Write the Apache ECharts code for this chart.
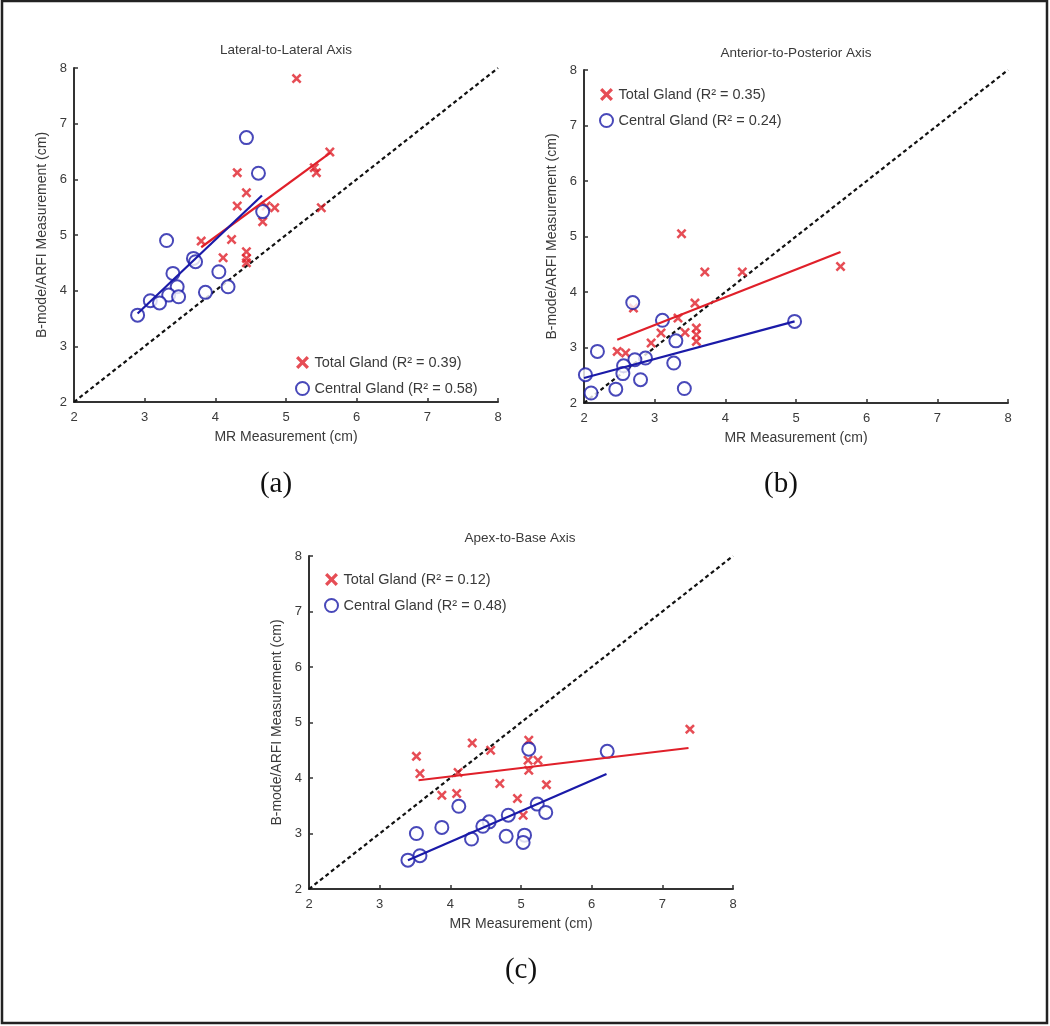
<!DOCTYPE html>
<html>
<head>
<meta charset="utf-8">
<script src="https://cdn.jsdelivr.net/npm/echarts@6/dist/echarts.min.js"></script>
<style>
html,body{margin:0;padding:0;background:#fff;}
#chart{width:1050px;height:1026px;}
</style>
</head>
<body>
<div id="chart"></div>
<script>
// ---------- DATA ----------
const axisTicks = [2, 3, 4, 5, 6, 7, 8];
const panelTitles = ['Lateral-to-Lateral Axis', 'Anterior-to-Posterior Axis', 'Apex-to-Base Axis'];
const panelLetters = ['(a)', '(b)', '(c)'];
const totalNames = ['Total Gland (R² = 0.39)', 'Total Gland (R² = 0.35)', 'Total Gland (R² = 0.12)'];
const centralNames = ['Central Gland (R² = 0.58)', 'Central Gland (R² = 0.24)', 'Central Gland (R² = 0.48)'];
const identityLine = [[2, 2], [8, 8]];

// Panel (a) Lateral-to-Lateral
const aTotal = [[5.15,7.81],[5.62,6.49],[5.40,6.21],[5.43,6.12],[4.31,6.12],[4.44,5.76],[4.31,5.52],[4.72,5.52],
  [4.84,5.49],[4.67,5.24],[5.50,5.49],[3.80,4.89],[4.23,4.92],[4.11,4.59],[4.44,4.70],[4.44,4.58],[4.44,4.50]];
const aCentral = [[4.44,6.75],[4.61,6.11],[4.67,5.42],[3.31,4.90],[3.69,4.58],[3.72,4.52],[3.40,4.31],[4.05,4.34],
  [3.46,4.07],[4.18,4.07],[3.86,3.97],[3.34,3.92],[3.48,3.89],[3.08,3.82],[3.21,3.78],[2.90,3.56]];
const aTotalFit = [[3.80,4.78],[5.63,6.48]];
const aCentralFit = [[2.90,3.59],[4.66,5.71]];

// Panel (b) Anterior-to-Posterior
const bTotal = [[3.38,5.05],[3.71,4.36],[4.24,4.36],[5.63,4.46],[3.57,3.80],[2.70,3.71],[3.33,3.53],[3.59,3.35],
  [3.43,3.27],[3.59,3.23],[3.09,3.26],[3.59,3.11],[2.95,3.08],[2.47,2.93],[2.59,2.90]];
const bCentral = [[2.69,3.81],[4.98,3.47],[3.11,3.49],[3.30,3.12],[2.19,2.93],[2.87,2.81],[2.72,2.78],[2.56,2.67],
  [3.27,2.72],[2.02,2.51],[2.55,2.53],[2.80,2.42],[2.45,2.25],[3.42,2.26],[2.10,2.18]];
const bTotalFit = [[2.47,3.14],[5.63,4.72]];
const bCentralFit = [[2.00,2.45],[4.98,3.47]];

// Panel (c) Apex-to-Base
const cTotal = [[7.39,4.88],[4.31,4.63],[4.57,4.50],[3.52,4.39],[5.11,4.68],[5.10,4.32],[5.24,4.32],[5.11,4.14],
  [3.57,4.08],[4.11,4.10],[4.70,3.90],[5.36,3.88],[3.88,3.69],[4.09,3.72],[4.95,3.63],[5.03,3.33]];
const cCentral = [[6.22,4.48],[5.11,4.52],[4.12,3.49],[5.23,3.53],[5.35,3.38],[4.82,3.33],[4.55,3.21],[4.46,3.13],
  [3.88,3.11],[3.52,3.00],[4.30,2.90],[4.79,2.95],[5.05,2.97],[5.03,2.84],[3.57,2.60],[3.40,2.52]];
const cTotalFit = [[3.55,3.96],[7.37,4.54]];
const cCentralFit = [[3.40,2.52],[6.21,4.07]];

// ---------- STYLE / LAYOUT ----------
const RED = '#e0202a';
const BLUE = '#1a1aa8';
const AXIS = '#333';
const TXT = '#3a3a3a';
const FONT = 'Liberation Sans, Arial, sans-serif';
const CROSS = 'path://M0,1.8 L1.8,0 L5,3.2 L8.2,0 L10,1.8 L6.8,5 L10,8.2 L8.2,10 L5,6.8 L1.8,10 L0,8.2 L3.2,5 Z';

const grids = [
  {left: 74, top: 68, width: 424, height: 334},
  {left: 584, top: 70, width: 424, height: 333},
  {left: 309, top: 556, width: 424, height: 333}
];
const titlePos = [[286, 50], [796, 53], [520, 538]];
const letterPos = [[276, 484], [781, 484], [521, 970]];
const legendPos = [
  {left: 290, top: 350},
  {left: 594, top: 82},
  {left: 319, top: 567}
];
const panels = [
  {total: aTotal, central: aCentral, tFit: aTotalFit, cFit: aCentralFit},
  {total: bTotal, central: bCentral, tFit: bTotalFit, cFit: bCentralFit},
  {total: cTotal, central: cCentral, tFit: cTotalFit, cFit: cCentralFit}
];

function xAxisFor(i) {
  return {
    type: 'value', gridIndex: i, min: axisTicks[0], max: axisTicks[axisTicks.length - 1], interval: 1,
    name: 'MR Measurement (cm)', nameLocation: 'middle', nameGap: 28,
    nameTextStyle: {color: TXT, fontSize: 14, fontFamily: FONT},
    axisLine: {show: true, onZero: false, lineStyle: {color: AXIS, width: 2}},
    axisTick: {show: true, inside: true, length: 4, lineStyle: {color: AXIS, width: 1.5}},
    axisLabel: {color: TXT, fontSize: 13, fontFamily: FONT, margin: 9},
    splitLine: {show: false}
  };
}
function yAxisFor(i) {
  return {
    type: 'value', gridIndex: i, min: axisTicks[0], max: axisTicks[axisTicks.length - 1], interval: 1,
    name: 'B-mode/ARFI Measurement (cm)', nameLocation: 'middle', nameGap: 25,
    nameTextStyle: {color: TXT, fontSize: 14, fontFamily: FONT},
    axisLine: {show: true, onZero: false, lineStyle: {color: AXIS, width: 2}},
    axisTick: {show: true, inside: true, length: 4, lineStyle: {color: AXIS, width: 1.5}},
    axisLabel: {color: TXT, fontSize: 13, fontFamily: FONT, margin: 7},
    splitLine: {show: false}
  };
}

const series = [];
const legends = [];
panels.forEach((p, i) => {
  series.push({
    type: 'line', xAxisIndex: i, yAxisIndex: i, data: identityLine, showSymbol: false, silent: true,
    lineStyle: {color: '#111', width: 2.2, type: [4, 3]}, z: 1
  });
  series.push({
    type: 'scatter', name: totalNames[i], xAxisIndex: i, yAxisIndex: i, data: p.total,
    symbol: CROSS, symbolSize: 10, itemStyle: {color: RED}, z: 3
  });
  series.push({
    type: 'scatter', name: centralNames[i], xAxisIndex: i, yAxisIndex: i, data: p.central,
    symbol: 'emptyCircle', symbolSize: 13, itemStyle: {color: BLUE, borderColor: BLUE, borderWidth: 2.6}, z: 4
  });
  series.push({
    type: 'line', xAxisIndex: i, yAxisIndex: i, data: p.tFit, showSymbol: false, silent: true,
    lineStyle: {color: RED, width: 2.2}, z: 5
  });
  series.push({
    type: 'line', xAxisIndex: i, yAxisIndex: i, data: p.cFit, showSymbol: false, silent: true,
    lineStyle: {color: BLUE, width: 2.2}, z: 6
  });
  legends.push(Object.assign({
    orient: 'vertical', data: [totalNames[i], centralNames[i]], itemWidth: 14, itemHeight: 13, itemGap: 11,
    selectedMode: false,
    textStyle: {color: TXT, fontSize: 14.5, fontFamily: FONT}
  }, legendPos[i]));
});

const graphics = [
  {type: 'rect', shape: {x: 2, y: 1, width: 1045, height: 1022}, style: {fill: 'none', stroke: '#222', lineWidth: 2.5}, z: 100}
];
panelTitles.forEach((t, i) => {
  graphics.push({type: 'text', x: titlePos[i][0], y: titlePos[i][1],
    style: {text: t, fill: TXT, font: '13.5px ' + FONT, textAlign: 'center', textVerticalAlign: 'middle'}});
});
panelLetters.forEach((t, i) => {
  graphics.push({type: 'text', x: letterPos[i][0], y: letterPos[i][1],
    style: {text: t, fill: '#111', font: '29px "Liberation Serif", "Times New Roman", serif', textAlign: 'center', textVerticalAlign: 'middle'}});
});

const chart = echarts.init(document.getElementById('chart'), null, {renderer: 'canvas'});
chart.setOption({
  animation: false,
  backgroundColor: '#fff',
  grid: grids,
  xAxis: [0, 1, 2].map(xAxisFor),
  yAxis: [0, 1, 2].map(yAxisFor),
  legend: legends,
  series: series,
  graphic: graphics
});
</script>
</body>
</html>
